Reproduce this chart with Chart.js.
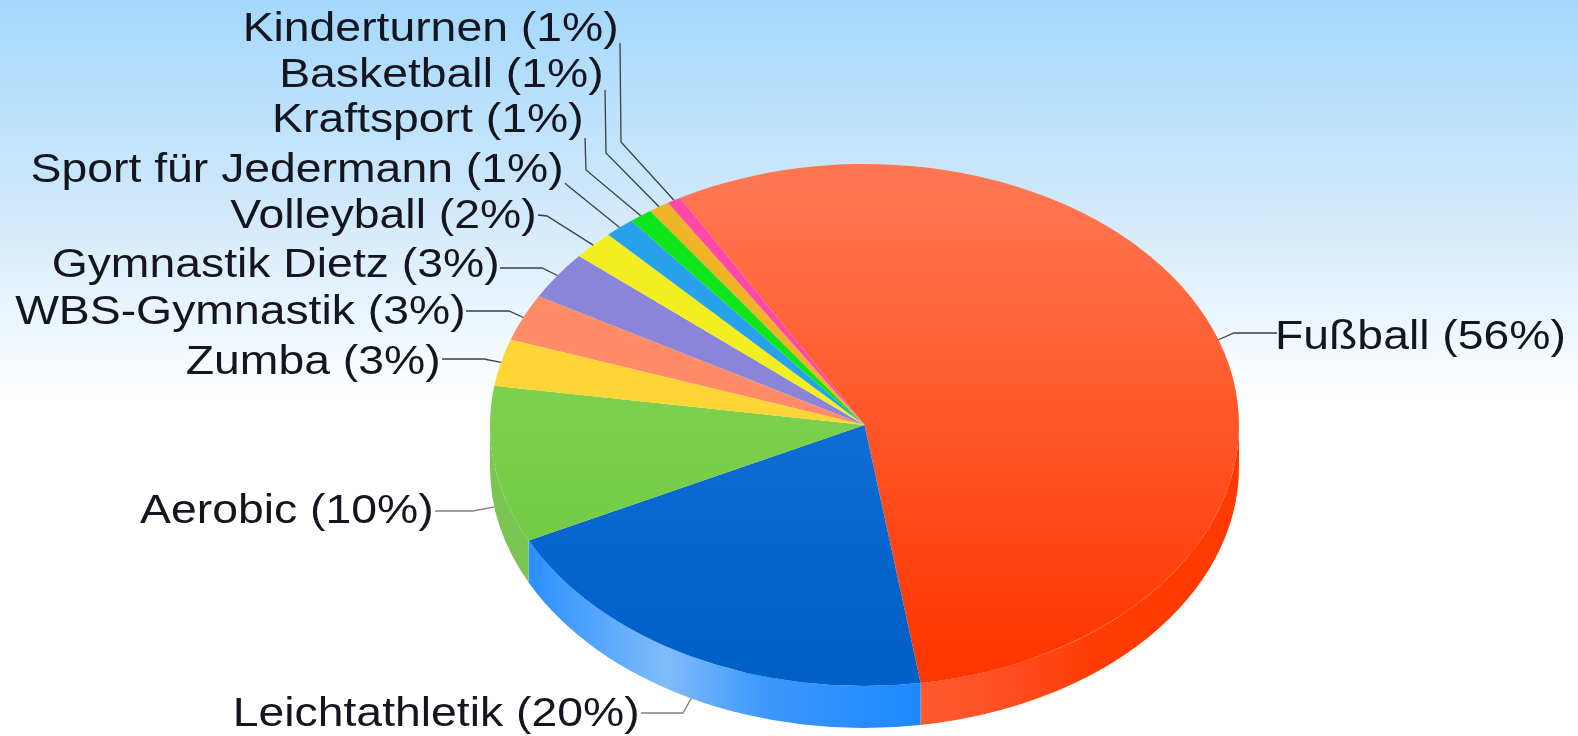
<!DOCTYPE html>
<html>
<head>
<meta charset="utf-8">
<script src="https://cdn.jsdelivr.net/npm/chart.js@4"></script>
<style>
  html, body { margin: 0; padding: 0; width: 1578px; height: 736px; overflow: hidden; background: #fff; }
  body { background: linear-gradient(to bottom, #a4d8fc 0px, #cfe8fb 200px, #eef7fd 330px, #ffffff 400px); }
  canvas { display: block; }
</style>
</head>
<body>
<canvas id="pie" width="1578" height="736"></canvas>
<script>
const sports = ['Fußball', 'Leichtathletik', 'Aerobic', 'Zumba', 'WBS-Gymnastik', 'Gymnastik Dietz', 'Volleyball', 'Sport für Jedermann', 'Kraftsport', 'Basketball', 'Kinderturnen'];
const shares = [55.8, 20.1, 9.7, 2.9, 2.9, 3.0, 1.8, 1.3, 1.0, 0.9, 0.6];
const shownPercent = [56, 20, 10, 3, 3, 3, 2, 1, 1, 1, 1];

// geometry of the tilted pie
const cx = 864.5, cy = 425, rx = 374.5, ry = 261, depth = 42;
const tilt = ry / rx;

// text end + leader start + elbow for every label (same order as sports)
const labelEnd = [[1275, 338, 'l'], [643, 715], [437, 512], [444, 363], [469, 313], [503, 266], [540, 217], [567, 171], [587, 121], [607, 76], [622, 30]];
const leaderStart = [[1277, 333], [641, 713], [435, 511], [442, 359], [466, 311], [500, 268], [538, 215], [565, 183], [585, 138], [605, 90], [620, 43]];
const leaderElbow = [[1234, 333], [683, 713], [473, 511], [484, 359], [509, 311], [542, 268], [547, 216], [567, 185], [586, 170], [606, 153], [621, 142]];

const canvas = document.getElementById('pie');
const ctx = canvas.getContext('2d');

function vGrad(top, bottom) {
  const g = ctx.createLinearGradient(0, cy - rx, 0, cy + rx);
  g.addColorStop(0.05, top);
  g.addColorStop(0.95, bottom);
  return g;
}

const sliceColors = [
  vGrad('#ff7650', '#ff3600'),
  vGrad('#1d7ade', '#0060c8'),
  vGrad('#8ad65c', '#6cc93c'),
  '#ffd535', '#ff8c66', '#8a85d8', '#f3ee20', '#28a2ea', '#0de51a', '#f0b428', '#ff48a8'
];

function sideColor(i, a, b) {
  const g = ctx.createLinearGradient(cx + rx * Math.cos(b), 0, cx + rx * Math.cos(a), 0);
  if (i === 0) {
    g.addColorStop(0, '#ff5a30'); g.addColorStop(0.2, '#ff5228'); g.addColorStop(0.55, '#ff3c04'); g.addColorStop(1, '#ff3a00');
  } else if (i === 1) {
    g.addColorStop(0, '#2a90ff'); g.addColorStop(0.35, '#80bcfa'); g.addColorStop(0.6, '#3d98fb'); g.addColorStop(1, '#1c88ff');
  } else {
    g.addColorStop(0, '#7ac553'); g.addColorStop(1, '#7ac553');
  }
  return g;
}

const pieTilt = {
  id: 'pieTilt',
  beforeDatasetDraw(chart) {
    const c = chart.ctx;
    const arcs = chart.getDatasetMeta(0).data;
    // side wall of the slices in the front half
    arcs.forEach((arc, i) => {
      const a = Math.max(arc.startAngle, 0), b = Math.min(arc.endAngle, Math.PI);
      if (b <= a) return;
      c.save();
      c.beginPath();
      c.ellipse(arc.x, arc.y + depth, rx, ry, 0, a, b);
      c.ellipse(arc.x, arc.y, rx, ry, 0, b, a, true);
      c.closePath();
      c.fillStyle = sideColor(i, a, b);
      c.fill();
      c.restore();
    });
    c.save();
    c.translate(0, cy);
    c.scale(1, tilt);
    c.translate(0, -cy);
  },
  afterDatasetDraw(chart) {
    chart.ctx.restore();
  },
  afterDraw(chart) {
    const c = chart.ctx;
    const arcs = chart.getDatasetMeta(0).data;
    arcs.forEach((arc, i) => {
      const mid = (arc.startAngle + arc.endAngle) / 2;
      const m = ((mid % (2 * Math.PI)) + 2 * Math.PI) % (2 * Math.PI);
      const ex = arc.x + rx * Math.cos(mid);
      const ey = arc.y + ry * Math.sin(mid) + (m < Math.PI ? depth : 0);

      c.beginPath();
      c.moveTo(leaderStart[i][0], leaderStart[i][1]);
      c.lineTo(leaderElbow[i][0], leaderElbow[i][1]);
      c.lineTo(ex, ey);
      c.strokeStyle = i === 1 || i === 2 ? '#808080' : '#3a3f48';
      c.lineWidth = 1.3;
      c.stroke();

      // text is a bit wider than the font, so stretch it sideways
      const [tx, ty, side] = labelEnd[i];
      c.save();
      c.translate(tx, ty);
      c.scale(1.13, 1);
      c.font = '41px "Liberation Sans", Arial, sans-serif';
      c.textBaseline = 'middle';
      c.textAlign = side === 'l' ? 'left' : 'right';
      c.fillStyle = '#14151f';
      c.fillText(sports[i] + ' (' + shownPercent[i] + '%)', side === 'l' ? 0 : -3, 0);
      c.restore();
    });
  }
};

new Chart(canvas, {
  type: 'pie',
  data: {
    labels: sports,
    datasets: [{ data: shares, backgroundColor: sliceColors, borderWidth: 0, radius: rx }]
  },
  options: {
    responsive: false,
    animation: false,
    rotation: -29.5,
    layout: { padding: { left: 151, top: 114, right: 0, bottom: 0 } },
    plugins: { legend: { display: false }, tooltip: { enabled: false } }
  },
  plugins: [pieTilt]
});
</script>
</body>
</html>
